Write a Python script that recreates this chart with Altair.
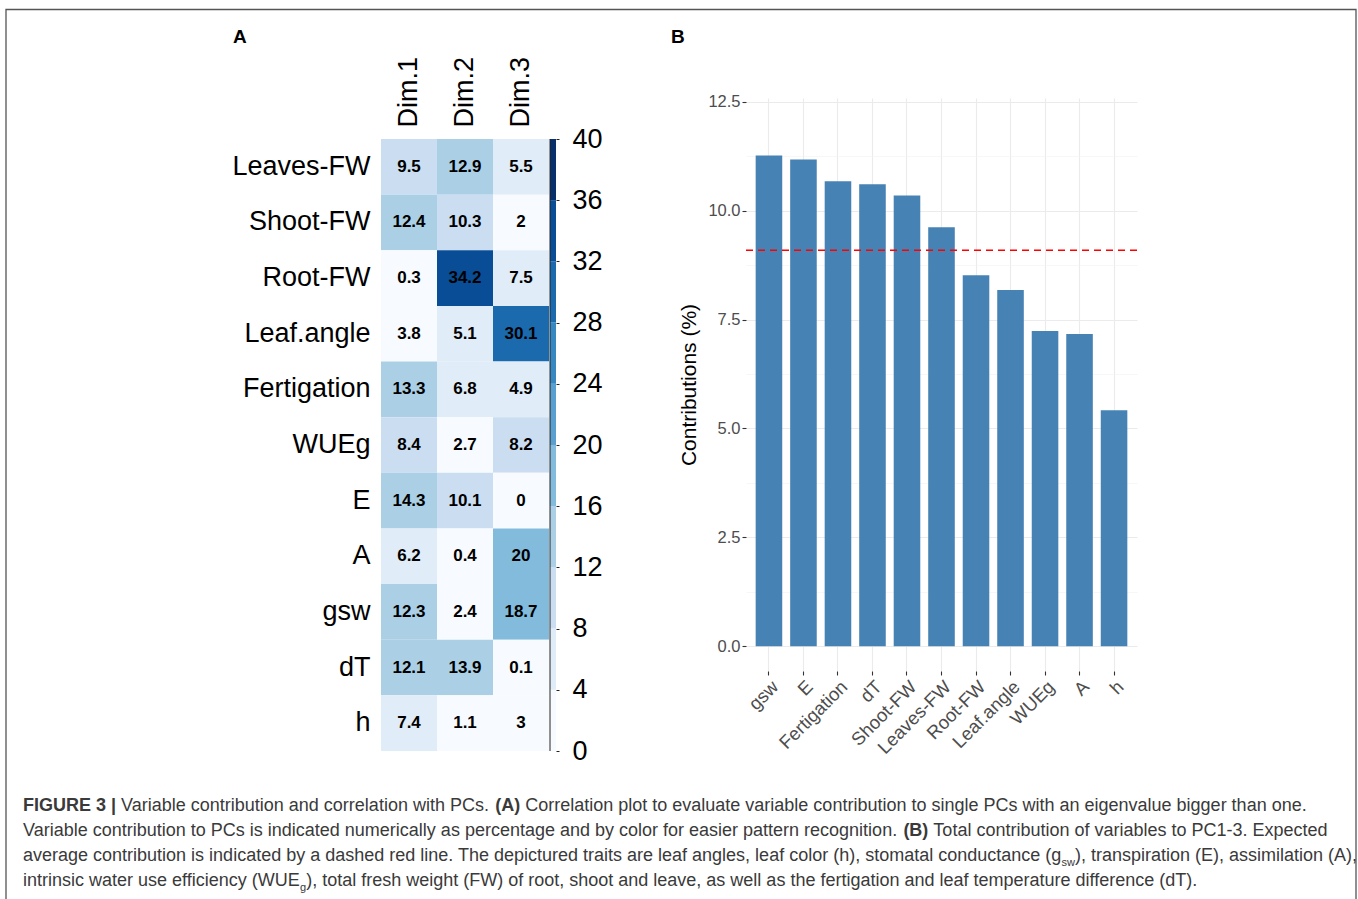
import altair as alt
import pandas as pd

# ---------------- Panel A: contributions of variables to Dim.1-3 ----------------
variables = ["Leaves-FW", "Shoot-FW", "Root-FW", "Leaf.angle", "Fertigation",
             "WUEg", "E", "A", "gsw", "dT", "h"]
dims = ["Dim.1", "Dim.2", "Dim.3"]
dim1 = [9.5, 12.4, 0.3, 3.8, 13.3, 8.4, 14.3, 6.2, 12.3, 12.1, 7.4]
dim2 = [12.9, 10.3, 34.2, 5.1, 6.8, 2.7, 10.1, 0.4, 2.4, 13.9, 1.1]
dim3 = [5.5, 2.0, 7.5, 30.1, 4.9, 8.2, 0.0, 20.0, 18.7, 0.1, 3.0]
legend_breaks = [0, 4, 8, 12, 16, 20, 24, 28, 32, 36, 40]
blues10 = ["#f7fbff", "#e0ecf8", "#cbdef1", "#abd0e6", "#82bbdb",
           "#599fcf", "#3787c0", "#1b6aae", "#084d96", "#08306b"]

# ---------------- Panel B: total contribution to PC1-3 ----------------
bar_vars = ["gsw", "E", "Fertigation", "dT", "Shoot-FW", "Leaves-FW",
            "Root-FW", "Leaf.angle", "WUEg", "A", "h"]
bar_vals = [11.27, 11.18, 10.68, 10.61, 10.35, 9.62, 8.52, 8.18, 7.24, 7.17, 5.42]
y_major = [0, 2.5, 5, 7.5, 10, 12.5]
y_minor = [1.25, 3.75, 6.25, 8.75, 11.25]

panel_labels = ["A", "B"]

# ---------------- Caption ----------------
caption_lines = [
    [("FIGURE 3 |", "bold"), (" Variable contribution and correlation with PCs. ", "normal"),
     ("(A)", "bold"),
     (" Correlation plot to evaluate variable contribution to single PCs with an eigenvalue bigger than one.", "normal")],
    [("Variable contribution to PCs is indicated numerically as percentage and by color for easier pattern recognition. ", "normal"),
     ("(B)", "bold"), (" Total contribution of variables to PC1-3. Expected", "normal")],
    [("average contribution is indicated by a dashed red line. The depictured traits are leaf angles, leaf color (h), stomatal conductance (g", "normal"),
     ("sw", "sub"), ("), transpiration (E), assimilation (A),", "normal")],
    [("intrinsic water use efficiency (WUE", "normal"), ("g", "sub"),
     ("), total fresh weight (FW) of root, shoot and leave, as well as the fertigation and leaf temperature difference (dT).", "normal")],
]

FONT = "Liberation Sans"
CAP_SIZE = {"normal": 18, "bold": 18, "sub": 11}

# Arial / Liberation Sans advance widths (1/1000 em)
REG = dict(zip("abcdefghijklmnopqrstuvwxyz",
               [556, 556, 500, 556, 556, 278, 556, 556, 222, 222, 500, 222, 833,
                556, 556, 556, 556, 333, 500, 278, 556, 500, 722, 500, 500, 500]))
REG.update(dict(zip("ABCDEFGHIJKLMNOPQRSTUVWXYZ",
                    [667, 667, 722, 722, 667, 611, 778, 722, 278, 500, 667, 556, 833,
                     722, 778, 667, 778, 722, 667, 611, 722, 667, 944, 667, 667, 611])))
REG.update({" ": 278, ".": 278, ",": 278, "(": 333, ")": 333, "-": 333, "|": 260, "%": 889})
REG.update({d: 556 for d in "0123456789"})
BOLD = dict(zip("abcdefghijklmnopqrstuvwxyz",
                [556, 611, 556, 611, 556, 333, 611, 611, 278, 278, 556, 278, 889,
                 611, 611, 611, 611, 389, 556, 333, 611, 556, 778, 556, 556, 500]))
BOLD.update(dict(zip("ABCDEFGHIJKLMNOPQRSTUVWXYZ",
                     [722, 722, 722, 722, 667, 611, 778, 722, 278, 556, 722, 611, 833,
                      722, 778, 667, 778, 722, 667, 611, 722, 667, 944, 667, 667, 611])))
BOLD.update({" ": 278, ".": 278, ",": 278, "(": 333, ")": 333, "-": 333, "|": 280})
BOLD.update({d: 556 for d in "0123456789"})


def text_width(s, style):
    table = BOLD if style == "bold" else REG
    return sum(table.get(c, 556) for c in s) * CAP_SIZE[style] / 1000.0


# layout constants (pixels, relative to the caption view origin = heatmap left edge)
CAP_LEFT = -358
CAP_BASE = 19
CAP_LINE = 25
CAP_W = 975
BORDER = dict(x=-375, x2=975, y=-782, y2=115)

rows = []
for li, segs in enumerate(caption_lines):
    cursor = 0.0
    for txt, style in segs:
        lead = len(txt) - len(txt.lstrip(" "))
        rows.append({
            "text": txt.strip(" "),
            "style": style,
            "px": CAP_LEFT + cursor + text_width(" " * lead, style),
            "py": CAP_BASE + CAP_LINE * li + (5 if style == "sub" else 0),
        })
        cursor += text_width(txt, style)
cap_df = pd.DataFrame(rows)


def panel_tag(label, dx):
    return alt.Chart(pd.DataFrame({"label": [label]})).mark_text(
        align="left", baseline="alphabetic", fontSize=19, fontWeight="bold",
        color="black", font=FONT,
    ).encode(x=alt.value(dx), y=alt.value(-55), text="label:N")


# ---------------- Build Panel A ----------------
HEAT_TOP, HEAT_BOTTOM = 41, 653   # heat cells inside a 653 px tall view

heat_df = pd.DataFrame([
    {"variable": v, "dim": d, "value": val}
    for d, col in zip(dims, [dim1, dim2, dim3])
    for v, val in zip(variables, col)
])
step = legend_breaks[1] - legend_breaks[0]
bin_expr = f"max(ceil(datum.value / {step}) - 1, 0)"
color_enc = alt.Color("bin:O", scale=alt.Scale(domain=list(range(len(blues10))), range=blues10),
                      legend=None)

heat_base = alt.Chart(heat_df).transform_calculate(bin=bin_expr)
y_band = alt.Scale(paddingInner=0, paddingOuter=0, range=[HEAT_TOP, HEAT_BOTTOM])
cells = heat_base.mark_rect().encode(
    x=alt.X("dim:N", sort=dims, scale=alt.Scale(paddingInner=0, paddingOuter=0),
            axis=alt.Axis(orient="top", offset=-HEAT_TOP, labelAngle=270, labelAlign="left",
                          labelBaseline="middle", labelFontSize=27, labelColor="black",
                          labelPadding=12, ticks=False, domain=False, grid=False, title=None)),
    y=alt.Y("variable:N", sort=variables, scale=y_band,
            axis=alt.Axis(labelFontSize=27, labelColor="black", labelPadding=11,
                          ticks=False, domain=False, grid=False, title=None, labelLimit=400)),
    color=color_enc,
)
cell_text = heat_base.mark_text(fontSize=17, fontWeight="bold", color="black").encode(
    x=alt.X("dim:N", sort=dims),
    y=alt.Y("variable:N", sort=variables),
    text=alt.Text("value:Q", format=".1~f"),
)

cbar_df = pd.DataFrame({"lo": legend_breaks[:-1], "hi": legend_breaks[1:]})
cbar_scale = alt.Scale(domain=[legend_breaks[0], legend_breaks[-1]], nice=False, zero=False,
                       range=[HEAT_BOTTOM, HEAT_TOP])
cbar = alt.Chart(cbar_df).transform_calculate(
    value="(datum.lo + datum.hi) / 2"
).transform_calculate(bin=bin_expr).mark_rect().encode(
    x=alt.value(169), x2=alt.value(175),
    y=alt.Y("lo:Q", scale=cbar_scale,
            axis=alt.Axis(orient="right", values=legend_breaks, offset=7, tickSize=3,
                          tickColor="#222222", labelFontSize=27, labelColor="black",
                          labelPadding=13, labelBaseline="middle", domain=False,
                          grid=False, title=None)),
    y2="hi:Q",
    color=color_enc,
)
cbar_edge = alt.Chart(cbar_df).mark_rule(color="#222222", strokeWidth=1).encode(
    x=alt.value(169),
    y=alt.Y("min(lo):Q", scale=cbar_scale),
    y2=alt.Y2("max(hi):Q"),
)

heat = alt.layer(
    alt.layer(cells, cell_text),
    alt.layer(cbar, cbar_edge),
    panel_tag(panel_labels[0], -148),
).resolve_scale(y="independent").resolve_axis(y="independent").properties(
    width=168, height=HEAT_BOTTOM,
)

# ---------------- Build Panel B ----------------
bar_df = pd.DataFrame({"variable": bar_vars, "contribution": bar_vals})
exp_df = pd.DataFrame({"expected": [100.0 / len(bar_vars)]})
y_scale = alt.Scale(domain=[-0.57, 12.59], nice=False, zero=False)

bars = alt.Chart(bar_df).mark_bar(color="#4682b4").encode(
    x=alt.X("variable:N", sort=bar_vars,
            scale=alt.Scale(paddingInner=0.23, paddingOuter=0.28),
            axis=alt.Axis(labelAngle=315, labelAlign="right", labelBaseline="top",
                          labelFontSize=18.5, labelColor="#4d4d4d", labelPadding=2,
                          tickSize=4, tickColor="#333333", tickWidth=1.1,
                          grid=True, gridColor="#ebebeb", gridWidth=1.1,
                          bandPosition=0.5, domain=False, title=None)),
    y=alt.Y("contribution:Q", scale=y_scale,
            axis=alt.Axis(orient="left", values=y_major, format=".1f",
                          labelFontSize=16.5, labelColor="#4d4d4d", labelPadding=2,
                          tickSize=4, tickColor="#333333", tickWidth=1.1,
                          grid=True, gridColor="#ebebeb", gridWidth=1.1, domain=False,
                          title="Contributions (%)", titleFontSize=21,
                          titleFontWeight="normal", titleColor="black", titlePadding=8.5)),
)
exp_rule = alt.Chart(exp_df).mark_rule(color="#ff0000", strokeDash=[7, 5], strokeWidth=1.5).encode(
    y=alt.Y("expected:Q", scale=y_scale,
            axis=alt.Axis(orient="left", values=y_minor, grid=True, gridColor="#f2f2f2",
                          gridWidth=0.6, labels=False, ticks=False, domain=False, title=None)),
)
bar_chart = alt.layer(bars, exp_rule, panel_tag(panel_labels[1], -75)).resolve_axis(
    y="independent"
).properties(width=391, height=573)

# ---------------- Caption + frame ----------------
border = alt.Chart(pd.DataFrame({"k": [0]})).mark_rect(
    fill="transparent", stroke="#555555", strokeWidth=1.3
).encode(x=alt.value(BORDER["x"]), x2=alt.value(BORDER["x2"]),
         y=alt.value(BORDER["y"]), y2=alt.value(BORDER["y2"]))


def cap_layer(style, weight):
    return alt.Chart(cap_df).transform_filter(f"datum.style == '{style}'").mark_text(
        align="left", baseline="alphabetic", fontSize=CAP_SIZE[style],
        fontWeight=weight, color="#3a3a3a", font=FONT,
    ).encode(x=alt.X("px:Q", scale=None), y=alt.Y("py:Q", scale=None), text="text:N")


caption = alt.layer(
    border, cap_layer("normal", "normal"), cap_layer("bold", "bold"), cap_layer("sub", "normal")
).properties(width=CAP_W, height=110)

row = alt.hconcat(heat, bar_chart, spacing=68)

chart = alt.vconcat(row, caption, spacing=-755.5).properties(
    padding={"left": 5, "top": 8, "right": 0, "bottom": 0},
    autosize=alt.AutoSizeParams(type="pad"),
    background="white",
).configure(font=FONT).configure_view(stroke=None)

chart.save("out.html", embed_options={"renderer": "svg", "actions": False})
